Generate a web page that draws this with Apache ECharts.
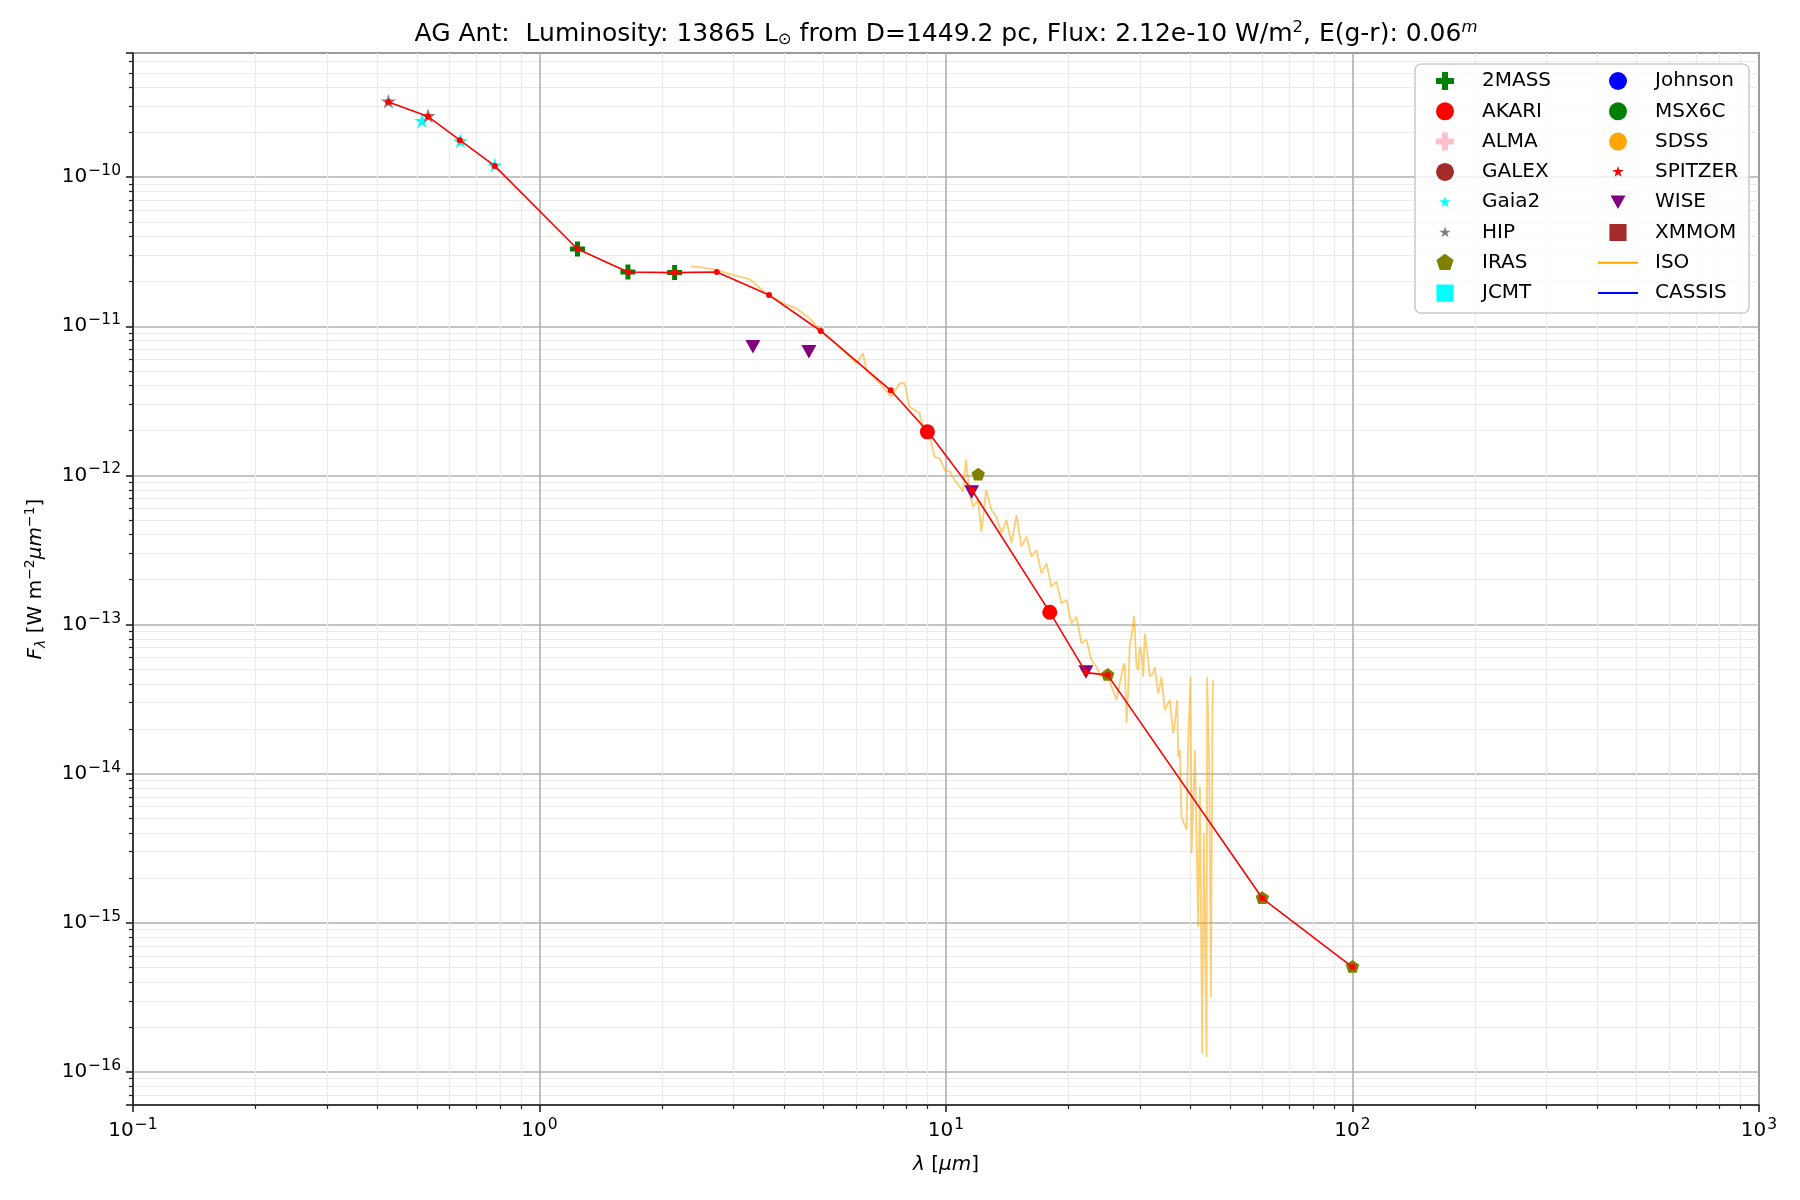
<!DOCTYPE html>
<html>
<head>
<meta charset="utf-8">
<script src="https://cdn.jsdelivr.net/npm/echarts@6/dist/echarts.min.js"></script>
<style>html,body{margin:0;background:#fff}#main{width:1800px;height:1200px}</style>
</head>
<body>
<div id="main"></div>
<script>
// photometry, wavelength in micron, flux in W m^-2 um^-1
var wl2mass = [1.24, 1.65, 2.15];
var f2mass = [3.30e-11, 2.31e-11, 2.29e-11];
var wlAkari = [9.0, 18.0];
var fAkari = [1.96e-12, 1.21e-13];
var wlGaia = [0.514, 0.639, 0.776];
var fGaia = [2.36e-10, 1.73e-10, 1.19e-10];
var wlHip = [0.425, 0.532];
var fHip = [3.19e-10, 2.55e-10];
var wlIras = [12, 25, 60, 100];
var fIras = [1.01e-12, 4.58e-14, 1.46e-15, 5.05e-16];
var wlWise = [3.35, 4.60, 11.56, 22.09];
var fWise = [7.30e-12, 6.76e-12, 7.74e-13, 4.8e-14];

// red connecting line
var wlSed = [0.425, 0.532, 0.637, 0.776, 1.24, 1.65, 2.15, 2.73, 3.67, 4.92, 7.31, 9.03, 11.6, 18.0, 22.1, 25.0, 60, 100];
var fSed = [3.19e-10, 2.55e-10, 1.77e-10, 1.19e-10, 3.30e-11, 2.31e-11, 2.29e-11, 2.31e-11, 1.62e-11, 9.30e-12, 3.72e-12, 1.96e-12, 7.92e-13, 1.21e-13, 4.76e-14, 4.58e-14, 1.46e-15, 5.05e-16];

// ISO spectrum
var wlIso = [2.36, 2.48, 2.72, 2.99, 3.29, 3.61, 3.97, 4.28, 4.62, 4.92, 5.48, 6.02, 6.25, 6.37, 6.87, 7.34, 7.69, 7.91, 8.14, 8.61,
  8.86, 9.12, 9.38, 9.65, 9.93, 10.21, 10.50, 10.81, 11.01, 11.2, 11.44, 11.65, 11.99, 12.22, 12.56, 12.93, 13.3, 13.69, 14.08, 14.49,
  14.91, 15.33, 15.78, 16.23, 16.70, 17.17, 17.67, 18.17, 18.70, 19.23, 19.79, 20.35, 20.94, 21.54, 22.15, 22.79, 23.45, 24.12, 24.81, 25.29,
  25.53, 26.27, 27.27, 27.53, 27.8, 28.05, 28.33, 28.59, 29.03, 29.42, 29.70, 29.98, 30.27, 30.55, 30.84, 31.13, 31.43, 31.72, 32.33, 32.63,
  33.25, 33.57, 33.88, 34.54, 35.53, 36.2, 36.56, 37.04, 37.25, 37.60, 37.96, 39.05, 39.42, 39.96, 40.18, 40.95, 41.73, 42.12, 42.68, 43.09,
  43.75, 43.90, 44.40, 44.83, 45.26, 45.43];
var fIso = [2.51e-11, 2.49e-11, 2.39e-11, 2.21e-11, 2.07e-11, 1.66e-11, 1.43e-11, 1.32e-11, 1.13e-11, 9.31e-12, 7.30e-12, 5.65e-12, 6.59e-12, 5.09e-12, 4.15e-12, 3.37e-12, 4.15e-12, 4.15e-12, 2.89e-12, 2.61e-12,
  1.91e-12, 1.82e-12, 1.33e-12, 1.30e-12, 1.09e-12, 1.06e-12, 9.31e-13, 8.40e-13, 7.78e-13, 1.27e-12, 7.59e-13, 6.17e-13, 6.84e-13, 4.19e-13, 7.98e-13, 5.86e-13, 5.28e-13, 4.09e-13, 5.02e-13, 3.51e-13,
  5.42e-13, 3.33e-13, 3.88e-13, 2.85e-13, 3.16e-13, 2.20e-13, 2.57e-13, 1.79e-13, 1.94e-13, 1.39e-13, 1.46e-13, 1.02e-13, 1.13e-13, 7.48e-14, 7.87e-14, 5.78e-14, 5.21e-14, 4.47e-14, 4.95e-14, 4.25e-14,
  3.83e-14, 3.12e-14, 5.21e-14, 5.50e-14, 2.18e-14, 3.45e-14, 7.48e-14, 8.28e-14, 1.14e-13, 5.21e-14, 4.95e-14, 7.10e-14, 6.41e-14, 4.47e-14, 8.73e-14, 7.10e-14, 5.78e-14, 4.47e-14, 4.71e-14, 5.21e-14,
  3.45e-14, 3.83e-14, 4.47e-14, 2.67e-14, 3.12e-14, 1.86e-14, 2.17e-14, 3.12e-14, 1.30e-14, 1.44e-14, 5.14e-15, 4.19e-15, 1.60e-14, 4.47e-14, 2.92e-15, 1.44e-14, 9.40e-16, 8.17e-15, 1.33e-16, 3.98e-15,
  1.26e-16, 4.47e-14, 1.11e-14, 3.18e-16, 3.12e-14, 4.25e-14];

var legendCol1 = ['2MASS', 'AKARI', 'ALMA', 'GALEX', 'Gaia2', 'HIP', 'IRAS', 'JCMT'];
var legendCol2 = ['Johnson', 'MSX6C', 'SDSS', 'SPITZER', 'WISE', 'XMMOM', 'ISO', 'CASSIS'];
var titleText = 'AG Ant:  Luminosity: 13865 L{sub|\u2299} from D=1449.2 pc, Flux: 2.12e-10 W/m{sup|2}, E(g-r): 0.06{isup|m}';

// log axis labels break on tiny numbers, so fluxes are shifted by 1e20 and relabelled
var SHIFT = 20;
var SCALE = Math.pow(10, SHIFT);
var FONT = 'DejaVu Sans';

var STAR = 'path://M-5,-5ZM25,25ZM10,0L12.245,6.91L19.511,6.91L13.633,11.18L15.878,18.09L10,13.82L4.122,18.09L6.367,11.18L0.489,6.91L7.755,6.91Z';
var PENT = 'path://M0,0ZM20,20ZM10,0L19.511,6.91L15.878,18.09L4.122,18.09L0.489,6.91Z';
var TRID = 'path://M-2,-2ZM22,22ZM0,1L20,1L10,19Z';
var PLUS = 'path://M1,0L2,0L2,1L3,1L3,2L2,2L2,3L1,3L1,2L0,2L0,1L1,1Z';
var SQUARE = 'path://M-0.5,-0.5ZM20.5,20.5ZM0,0L20,0L20,20L0,20Z';

function pairs(xs, ys) {
  return xs.map(function (x, i) { return [x, ys[i] * SCALE]; });
}
function powLabel(shift) {
  return function (v) {
    var e = Math.round(Math.log10(v)) - shift;
    return '10{sup|' + (e < 0 ? '\u2212' + (-e) : e) + '}';
  };
}
function scat(name, color, symbol, size, xs, ys) {
  return {
    type: 'scatter', name: name, symbol: symbol, symbolSize: size, z: 3,
    itemStyle: { color: color, opacity: 1 },
    data: xs ? pairs(xs, ys) : []
  };
}

var labelRich = { sup: { fontSize: 15.5, fontFamily: FONT, color: '#000', padding: [0, 0, 12, 1] } };
var axisCommon = {
  type: 'log', logBase: 10,
  axisLine: { show: true, lineStyle: { color: '#222', width: 1.6 } },
  axisTick: { show: true, length: 7, lineStyle: { color: '#222', width: 1.6 } },
  minorTick: { show: true, splitNumber: 9, length: 4, lineStyle: { color: '#222', width: 1.2 } },
  splitLine: { show: true, lineStyle: { color: '#b0b0b0', width: 1.6 } },
  minorSplitLine: { show: true, lineStyle: { color: '#ebebeb', width: 1.2 } }
};

var legendBase = {
  orient: 'vertical', top: 71, itemWidth: 40, itemHeight: 18, itemGap: 10.3, padding: 0,
  selectedMode: false, z: 6,
  textStyle: { fontSize: 20, color: '#000', fontFamily: FONT, padding: [0, 0, 0, 12] }
};

var myChart = echarts.init(document.getElementById('main'));
var option = {
  animation: false,
  backgroundColor: '#fff',
  textStyle: { fontFamily: FONT },
  title: {
    text: titleText, left: 946, top: 19, textAlign: 'center', padding: 0,
    textStyle: {
      fontSize: 25, fontWeight: 'normal', color: '#000', fontFamily: FONT,
      rich: {
        sub: { fontSize: 16.5, fontFamily: FONT, color: '#000', padding: [11, 0, 0, 0] },
        sup: { fontSize: 16.5, fontFamily: FONT, color: '#000', padding: [0, 0, 13, 0] },
        isup: { fontSize: 16.5, fontFamily: FONT, color: '#000', fontStyle: 'italic', padding: [0, 0, 13, 0] }
      }
    }
  },
  grid: { left: 133, right: 41, top: 53, bottom: 95, show: true, borderColor: '#222', borderWidth: 1.6, backgroundColor: 'transparent' },
  graphic: [{
    type: 'rect', z: 5,
    shape: { x: 1415, y: 64, width: 334, height: 249, r: 6 },
    style: { fill: 'rgba(255,255,255,0.8)', stroke: '#cccccc', lineWidth: 1.6 }
  }],
  legend: [
    Object.assign({}, legendBase, { left: 1436, data: legendCol1 }),
    Object.assign({}, legendBase, {
      left: 1597,
      data: legendCol2.map(function (n) {
        return (n === 'ISO' || n === 'CASSIS') ? { name: n, itemStyle: { opacity: 0 }, lineStyle: { opacity: 1, width: 2 } } : n;
      })
    })
  ],
  xAxis: Object.assign({}, axisCommon, {
    min: 0.1, max: 1000,
    name: '{i|\u03bb} [{i|\u03bcm}]', nameLocation: 'middle', nameGap: 50,
    nameTextStyle: { fontSize: 20, color: '#000', fontFamily: FONT, rich: { i: { fontSize: 20, fontStyle: 'italic', fontFamily: FONT, color: '#000' } } },
    axisLabel: { fontSize: 20, color: '#000', fontFamily: FONT, margin: 12, formatter: powLabel(0), rich: labelRich }
  }),
  yAxis: Object.assign({}, axisCommon, {
    min: 6.0e-17 * SCALE, max: 6.8e-10 * SCALE,
    name: '{i|F}{sub|\u03bb} [W m{sup|\u22122}{i|\u03bcm}{sup|\u22121}]', nameLocation: 'middle', nameGap: 84,
    nameTextStyle: {
      fontSize: 20, color: '#000', fontFamily: FONT,
      rich: {
        i: { fontSize: 20, fontStyle: 'italic', fontFamily: FONT, color: '#000' },
        sub: { fontSize: 14, fontStyle: 'italic', fontFamily: FONT, color: '#000', padding: [10, 0, 0, 0] },
        sup: { fontSize: 14, fontFamily: FONT, color: '#000', padding: [0, 0, 12, 0] }
      }
    },
    axisLabel: { fontSize: 20, color: '#000', fontFamily: FONT, margin: 12, showMinLabel: false, showMaxLabel: false, formatter: powLabel(SHIFT), rich: labelRich }
  }),
  series: [
    {
      type: 'line', name: 'ISO', symbol: 'none', showSymbol: false, z: 2,
      lineStyle: { color: '#ffa500', width: 1.8, opacity: 0.55 }, itemStyle: { color: '#ffa500' },
      data: pairs(wlIso, fIso)
    },
    {
      type: 'line', name: 'CASSIS', symbol: 'none', showSymbol: false, z: 2,
      lineStyle: { color: '#0000ff', width: 1.6 }, itemStyle: { color: '#0000ff' }, data: []
    },
    scat('2MASS', '#008000', PLUS, 15, wl2mass, f2mass),
    scat('AKARI', '#ff0000', 'circle', 15, wlAkari, fAkari),
    scat('ALMA', '#ffc0cb', PLUS, 13),
    scat('GALEX', '#a52a2a', 'circle', 14),
    scat('Gaia2', '#00ffff', STAR, 24, wlGaia, fGaia),
    scat('HIP', '#808080', STAR, 24, wlHip, fHip),
    scat('IRAS', '#808000', PENT, 14, wlIras, fIras),
    scat('JCMT', '#00ffff', SQUARE, 13),
    scat('Johnson', '#0000ff', 'circle', 14),
    scat('MSX6C', '#008000', 'circle', 14),
    scat('SDSS', '#ffa500', 'circle', 14),
    scat('SPITZER', '#ff0000', STAR, 20),
    scat('WISE', '#800080', TRID, 18, wlWise, fWise),
    scat('XMMOM', '#a52a2a', SQUARE, 13),
    {
      type: 'line', name: 'SED', symbol: 'circle', symbolSize: 6, showSymbol: true, z: 4,
      lineStyle: { color: '#ff0000', width: 1.6 }, itemStyle: { color: '#ff0000' },
      data: pairs(wlSed, fSed)
    }
  ]
};
myChart.setOption(option);
</script>
</body>
</html>
